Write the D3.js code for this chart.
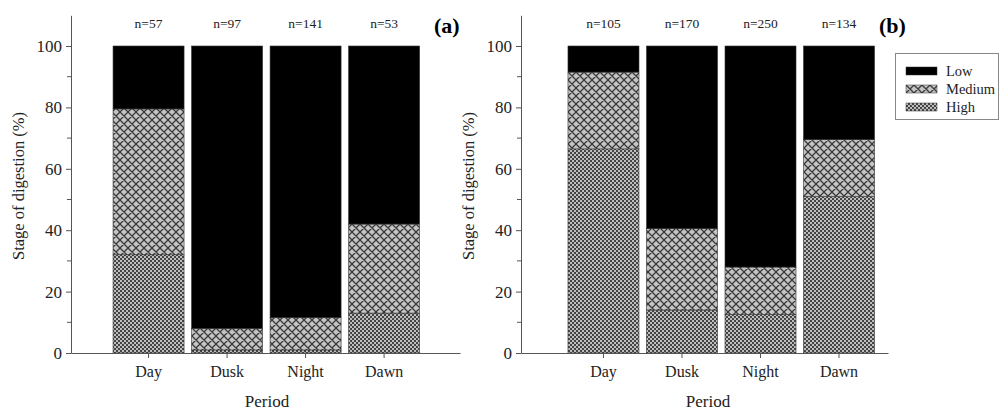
<!DOCTYPE html>
<html>
<head>
<meta charset="utf-8">
<script src="https://cdn.jsdelivr.net/npm/d3@7"></script>
<style>
  body { margin: 0; background: #fff; }
  svg text { font-family: "Liberation Serif", "Times New Roman", serif; }
</style>
</head>
<body>
<div id="chart"></div>
<script>
// data (percent of each stage per period)
const periods = ['Day', 'Dusk', 'Night', 'Dawn'];
const stages = ['High', 'Medium', 'Low'];

const highA = [32, 1, 1, 13];
const mediumA = [47.5, 7, 10.5, 29];
const lowA = [20.5, 92, 88.5, 58];
const countsA = [57, 97, 141, 53];

const highB = [66.5, 14, 12.5, 51];
const mediumB = [25, 26.5, 15.5, 18.5];
const lowB = [8.5, 59.5, 72, 30.5];
const countsB = [105, 170, 250, 134];

const yTicks = [0, 20, 40, 60, 80, 100];
const yMinor = [10, 30, 50, 70, 90];

const serif = '"Liberation Serif", "Times New Roman", serif';

let svg = d3.select('#chart')
    .append('svg')
    .attr('width', 1000)
    .attr('height', 410)
    .attr('font-family', serif);

// patterns
let defs = svg.append('defs');

let med = defs.append('pattern')
    .attr('id', 'pat-medium')
    .attr('patternUnits', 'userSpaceOnUse')
    .attr('width', 8)
    .attr('height', 8);
med.append('rect').attr('width', 8).attr('height', 8).attr('fill', '#c4c4c4');
med.append('path')
    .attr('d', 'M0,0L8,8M8,0L0,8M-1,7L1,9M7,-1L9,1M-1,1L1,-1M7,9L9,7')
    .attr('stroke', '#3a3a3a')
    .attr('stroke-width', 1.3);

let high = defs.append('pattern')
    .attr('id', 'pat-high')
    .attr('patternUnits', 'userSpaceOnUse')
    .attr('width', 4)
    .attr('height', 4);
high.append('rect').attr('width', 4).attr('height', 4).attr('fill', '#444');
high.append('rect').attr('width', 2).attr('height', 2).attr('fill', '#bdbdbd');
high.append('rect').attr('x', 2).attr('y', 2).attr('width', 2).attr('height', 2).attr('fill', '#bdbdbd');

const fills = {
    High: 'url(#pat-high)',
    Medium: 'url(#pat-medium)',
    Low: '#000'
};

let y = d3.scaleLinear()
    .domain([0, 110])
    .range([353, 15.3]);

function drawPanel(opt) {
    let rows = periods.map((p, i) => ({
        period: p,
        High: opt.high[i],
        Medium: opt.medium[i],
        Low: opt.low[i]
    }));

    let x = d3.scaleBand()
        .domain(periods)
        .range([opt.x0, opt.x1])
        .paddingInner(0.0955)
        .paddingOuter(opt.outer)
        .align(opt.align);

    let series = d3.stack().keys(stages)(rows);

    let g = svg.append('g');

    series.forEach(s => {
        g.selectAll('.bar-' + s.key)
            .data(s)
            .join('rect')
            .attr('class', 'bar-' + s.key)
            .attr('x', d => x(d.data.period))
            .attr('y', d => y(d[1]))
            .attr('width', x.bandwidth())
            .attr('height', d => y(d[0]) - y(d[1]))
            .attr('fill', fills[s.key])
            .attr('stroke', '#333')
            .attr('stroke-width', 0.6);
    });

    // y axis
    let yAxis = g.append('g')
        .attr('transform', `translate(${opt.x0}, 0)`)
        .call(d3.axisLeft(y).tickValues(yTicks).tickSize(5).tickSizeOuter(0).tickPadding(4));
    yAxis.attr('font-family', serif);
    yAxis.selectAll('text')
        .style('font-family', serif)
        .style('font-size', '17px')
        .attr('fill', '#222');
    yAxis.append('g')
        .selectAll('line')
        .data(yMinor)
        .join('line')
        .attr('x1', -4).attr('x2', 0)
        .attr('y1', d => y(d)).attr('y2', d => y(d))
        .attr('stroke', '#555');
    yAxis.selectAll('path, line').attr('stroke', '#555');

    // x axis
    let xAxis = g.append('g')
        .attr('transform', `translate(0, ${y(0)})`)
        .call(d3.axisBottom(x).tickSize(5).tickSizeOuter(0).tickPadding(8));
    xAxis.attr('font-family', serif);
    xAxis.selectAll('text')
        .style('font-family', serif)
        .style('font-size', '16px')
        .attr('fill', '#222');
    xAxis.selectAll('path, line').attr('stroke', '#555');

    // n labels
    g.selectAll('.n-label')
        .data(opt.counts)
        .join('text')
        .attr('class', 'n-label')
        .attr('x', (d, i) => x(periods[i]) + x.bandwidth() / 2)
        .attr('y', 28)
        .attr('text-anchor', 'middle')
        .attr('fill', '#222')
        .style('font-family', serif)
        .style('font-size', '13.5px')
        .text(d => 'n=' + d);

    // panel letter
    g.append('text')
        .attr('x', opt.letterX)
        .attr('y', 33)
        .style('font-family', serif)
        .style('font-size', '22px')
        .style('font-weight', 'bold')
        .attr('fill', '#000')
        .text(opt.letter);

    // axis titles
    g.append('text')
        .attr('transform', `translate(${opt.titleX}, 186) rotate(-90)`)
        .attr('text-anchor', 'middle')
        .attr('fill', '#222')
        .style('font-size', '16.5px')
        .text('Stage of digestion (%)');

    g.append('text')
        .attr('x', opt.periodX)
        .attr('y', 407)
        .attr('text-anchor', 'middle')
        .attr('fill', '#222')
        .style('font-size', '17px')
        .text('Period');
}

drawPanel({
    high: highA, medium: mediumA, low: lowA, counts: countsA,
    x0: 71, x1: 460, outer: 0.525, align: 0.51,
    letter: '(a)', letterX: 434, titleX: 24, periodX: 267
});

drawPanel({
    high: highB, medium: mediumB, low: lowB, counts: countsB,
    x0: 521, x1: 888, outer: 0.385, align: 0.777,
    letter: '(b)', letterX: 879, titleX: 474, periodX: 708
});

// legend
let legend = svg.append('g');
legend.append('rect')
    .attr('x', 895.5).attr('y', 53.5)
    .attr('width', 103).attr('height', 66)
    .attr('fill', '#fff')
    .attr('stroke', '#888');

let legendKeys = ['Low', 'Medium', 'High'];
let item = legend.selectAll('.item')
    .data(legendKeys)
    .join('g')
    .attr('class', 'item')
    .attr('transform', (d, i) => `translate(906, ${67 + i * 18})`);
item.append('rect')
    .attr('width', 31).attr('height', 8)
    .attr('fill', d => fills[d])
    .attr('stroke', '#333')
    .attr('stroke-width', 0.5);
item.append('text')
    .attr('x', 40).attr('y', 9)
    .attr('fill', '#222')
    .style('font-family', serif)
    .style('font-size', '14.5px')
    .text(d => d);
</script>
</body>
</html>
